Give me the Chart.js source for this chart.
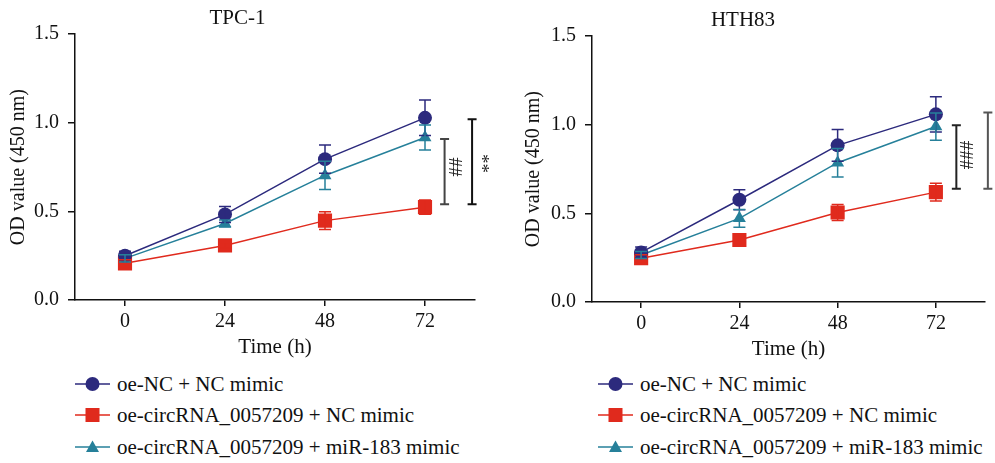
<!DOCTYPE html>
<html>
<head>
<meta charset="utf-8">
<script src="https://cdn.jsdelivr.net/npm/chart.js@4/dist/chart.umd.min.js"></script>
<style>
  body { margin: 0; background: #fff; width: 995px; height: 463px; position: relative; overflow: hidden; font-family: "Liberation Serif", serif; }
  .plot { position: absolute; }
  .legend { position: absolute; font-size: 21px; color: #111; }
  .legend div { position: absolute; left: 0; white-space: nowrap; height: 24px; line-height: 24px; }
  .legend svg { position: absolute; left: 0; top: 4px; }
  .legend span { position: absolute; left: 42px; top: 0; }
</style>
</head>
<body>
<canvas class="plot" id="tpc" width="495" height="360" style="left:0;top:0"></canvas>
<canvas class="plot" id="hth" width="500" height="360" style="left:495px;top:2px"></canvas>
<div class="legend" id="leg-tpc" style="left:75px;top:372px"></div>
<div class="legend" id="leg-hth" style="left:598px;top:372px"></div>
<script>
// Проба CCK-8: OD (450 nm) по времени, две линии клеток.
const hours = [0, 24, 48, 72];
const xTicks = [0, 24, 48, 72];
const seriesNames = ["oe-NC + NC mimic", "oe-circRNA_0057209 + NC mimic", "oe-circRNA_0057209 + miR-183 mimic"];
const seriesColors = ["#2c2a7d", "#e02a1d", "#26809a"];
const seriesMarkers = ["circle", "rect", "triangle"];
const markerSizes = [7, 10, 7.5];

// TPC-1
const tpcNC = [0.25, 0.483, 0.795, 1.028];
const tpcNCErr = [0.025, 0.045, 0.08, 0.10];
const tpcCirc = [0.207, 0.308, 0.448, 0.524];
const tpcCircErr = [0.02, 0.015, 0.05, 0.04];
const tpcMir = [0.235, 0.432, 0.703, 0.917];
const tpcMirErr = [0.02, 0.02, 0.08, 0.07];

// HTH83
const hthNC = [0.28, 0.577, 0.884, 1.059];
const hthNCErr = [0.03, 0.057, 0.09, 0.10];
const hthCirc = [0.247, 0.35, 0.505, 0.62];
const hthCircErr = [0.02, 0.015, 0.045, 0.05];
const hthMir = [0.265, 0.472, 0.786, 0.99];
const hthMirErr = [0.02, 0.05, 0.08, 0.077];

// значимость: x в часах, y в OD
const tpcMarks = [
  { x: 76.7, y0: 0.541, y1: 0.908, ty: 0.75, text: "##", color: "#444" },
  { x: 83.3, y0: 0.541, y1: 1.02, ty: 0.77, text: "**", color: "#111" },
];
const hthMarks = [
  { x: 77.0, y0: 0.639, y1: 0.997, ty: 0.83, text: "###", color: "#222" },
  { x: 84.7, y0: 0.639, y1: 1.07, ty: 0.85, text: "", color: "#555" },
];

const FONT = "Liberation Serif";

const errorBars = {
  id: "errorBars",
  afterDatasetsDraw(chart) {
    const { ctx, scales: { y } } = chart;
    ctx.save();
    chart.data.datasets.forEach((ds, di) => {
      const meta = chart.getDatasetMeta(di);
      ctx.strokeStyle = ds.borderColor;
      ctx.lineWidth = 1.5;
      meta.data.forEach((pt, i) => {
        const v = ds.data[i].y, e = ds.errors[i];
        const top = y.getPixelForValue(v + e), bot = y.getPixelForValue(v - e);
        ctx.beginPath();
        ctx.moveTo(pt.x, top); ctx.lineTo(pt.x, bot);
        ctx.moveTo(pt.x - 6, top); ctx.lineTo(pt.x + 6, top);
        ctx.moveTo(pt.x - 6, bot); ctx.lineTo(pt.x + 6, bot);
        ctx.stroke();
      });
    });
    ctx.restore();
  },
};

const brackets = {
  id: "brackets",
  afterDraw(chart, args, opts) {
    const { ctx, scales: { x, y } } = chart;
    ctx.save();
    (opts.marks || []).forEach((m) => {
      const px = x.getPixelForValue(m.x);
      const a = y.getPixelForValue(m.y1), b = y.getPixelForValue(m.y0);
      ctx.strokeStyle = m.color;
      ctx.lineWidth = 2;
      ctx.beginPath();
      ctx.moveTo(px, a); ctx.lineTo(px, b);
      ctx.moveTo(px - 4.5, a); ctx.lineTo(px + 4.5, a);
      ctx.moveTo(px - 4.5, b); ctx.lineTo(px + 4.5, b);
      ctx.stroke();
      if (m.text) {
        ctx.translate(px + 9, y.getPixelForValue(m.ty));
        ctx.rotate(Math.PI / 2);
        ctx.fillStyle = "#222";
        ctx.font = `19px "${FONT}"`;
        ctx.textAlign = "center";
        ctx.textBaseline = "middle";
        ctx.fillText(m.text, 0, 0);
        ctx.setTransform(1, 0, 0, 1, 0, 0);
      }
    });
    ctx.restore();
  },
};

function makeSets(vals, errs) {
  return vals.map((v, k) => ({
    label: seriesNames[k],
    data: hours.map((h, i) => ({ x: h, y: v[i] })),
    errors: errs[k],
    borderColor: seriesColors[k],
    backgroundColor: seriesColors[k],
    borderWidth: 1.5,
    pointStyle: seriesMarkers[k],
    pointRadius: markerSizes[k],
    pointBorderWidth: 0,
  }));
}

function makeChart(id, title, vals, errs, marks, yWidth, titlePad, padRight) {
  return new Chart(document.getElementById(id), {
    type: "line",
    data: { datasets: makeSets(vals, errs) },
    plugins: [errorBars, brackets],
    options: {
      responsive: false,
      animation: false,
      layout: { padding: { left: 0, right: padRight, top: 0, bottom: 0 } },
      plugins: {
        legend: { display: false },
        tooltip: { enabled: false },
        title: { display: true, text: title, color: "#111", font: { family: FONT, size: 21, weight: "normal" }, padding: { top: 6, bottom: 3 } },
        brackets: { marks },
      },
      scales: {
        x: {
          type: "linear", min: -12, max: 84,
          afterBuildTicks: (s) => { s.ticks = xTicks.map((v) => ({ value: v })); },
          afterFit: (s) => { s.height = 60; },
          ticks: { color: "#111", font: { family: FONT, size: 20 }, padding: 4 },
          grid: { drawOnChartArea: false, drawTicks: true, tickLength: 6, color: "#111", lineWidth: 1.5 },
          border: { color: "#111", width: 1.5 },
          title: { display: true, text: "Time (h)", color: "#111", font: { family: FONT, size: 21 }, padding: { top: 0, bottom: 0 } },
        },
        y: {
          min: 0, max: 1.5,
          afterFit: (s) => { s.width = yWidth; },
          ticks: { stepSize: 0.5, color: "#111", font: { family: FONT, size: 20 }, padding: 9, callback: (v) => v.toFixed(1) },
          grid: { drawOnChartArea: false, drawTicks: true, tickLength: 7, color: "#111", lineWidth: 1.5 },
          border: { color: "#111", width: 1.5 },
          title: { display: true, text: "OD value (450 nm)", color: "#111", font: { family: FONT, size: 20 }, padding: { top: titlePad, bottom: 0 } },
        },
      },
    },
  });
}

function markerSvg(k) {
  const c = seriesColors[k];
  let shape;
  if (seriesMarkers[k] === "circle") shape = `<circle cx="17.5" cy="8" r="7" fill="${c}"/>`;
  else if (seriesMarkers[k] === "rect") shape = `<rect x="10.5" y="1" width="14" height="14" fill="${c}"/>`;
  else shape = `<polygon points="17.5,1.5 24,13 11,13" fill="${c}"/>`;
  return `<svg width="35" height="16"><line x1="0" y1="8" x2="35" y2="8" stroke="${c}" stroke-width="1.5"/>${shape}</svg>`;
}

function buildLegend(id) {
  const rowsY = [0, 31, 63];
  document.getElementById(id).innerHTML = seriesNames
    .map((n, k) => `<div style="top:${rowsY[k]}px">${markerSvg(k)}<span>${n}</span></div>`)
    .join("");
}

makeChart("tpc", "TPC-1", [tpcNC, tpcCirc, tpcMir], [tpcNCErr, tpcCircErr, tpcMirErr], tpcMarks, 75, 7, 20);
makeChart("hth", "HTH83", [hthNC, hthCirc, hthMir], [hthNCErr, hthCircErr, hthMirErr], hthMarks, 97, 27, 4);
buildLegend("leg-tpc");
buildLegend("leg-hth");
</script>
</body>
</html>
